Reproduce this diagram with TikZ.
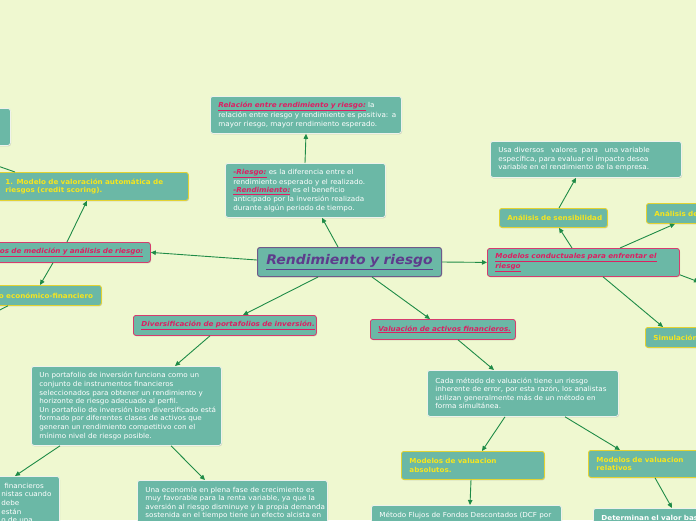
\documentclass[tikz,border=0pt]{standalone}
\usepackage{fontspec}
\setmainfont[FakeStretch=1.05]{DejaVu Sans}
\usetikzlibrary{arrows.meta,shadows}
\definecolor{bgc}{HTML}{EFF8D0}
\definecolor{tealc}{HTML}{6BB8A6}
\definecolor{boxline}{HTML}{EEF2EC}
\definecolor{pinkt}{HTML}{DC1F62}
\definecolor{pinkb}{HTML}{D63C6E}
\definecolor{yelt}{HTML}{F6E51E}
\definecolor{yelb}{HTML}{E2D232}
\definecolor{purt}{HTML}{5E3C8C}
\definecolor{purb}{HTML}{6E5A8A}
\definecolor{arrowc}{HTML}{1F8B47}
\newcommand\pk[1]{{\color{pinkt}\bfseries\itshape\underline{#1}}}
\newcommand\yl[1]{{\color{yelt}\bfseries #1}}
\newcommand\lnx[1]{\mbox{#1}}
\begin{document}
\begin{tikzpicture}[x=1pt,y=-1pt,
  box/.style={draw=boxline, fill=tealc, rounded corners=2.5pt, line width=0.8pt,
    inner xsep=8pt, inner ysep=0pt, anchor=north west, align=left, text=white,
    font=\fontsize{6.85}{8.6}\selectfont,
    drop shadow={opacity=0.3, shadow xshift=0.6pt, shadow yshift=-0.9pt}},
  ybox/.style={box, draw=yelb},
  pbox/.style={box, draw=pinkb},
  arr/.style={draw=arrowc, line width=0.9pt, -{Triangle[width=4.5pt,length=5pt]}}]
\useasboundingbox (0,0) rectangle (696,520);
\clip (0,0) rectangle (696,520);
\fill[bgc] (0,0) rectangle (696,520);

% nodes
\node[box, text width=54pt, minimum height=37pt] (tl) at (-60,108) {};
\node[box, text width=175pt, minimum height=37pt] (rel) at (210,96)
  {\lnx{\pk{Relación entre rendimiento y riesgo:} la}\\\lnx{relación entre riesgo y rendimiento es positiva: a}\\\lnx{mayor riesgo, mayor rendimiento esperado.}};
\node[box, text width=144pt, minimum height=54pt] (ries) at (225,163)
  {\lnx{\pk{-Riesgo:} es la diferencia entre el}\\\lnx{rendimiento esperado y el realizado.}\\\lnx{\pk{-Rendimiento:} es el beneficio}\\\lnx{anticipado por la inversión realizada}\\\lnx{durante algún periodo de tiempo.}};
\node[box, draw=purb, line width=1pt, text width=168pt, minimum height=29pt, align=center,
  font=\fontsize{13.3}{16}\selectfont] (cen) at (257,247)
  {{\color{purt}\bfseries\itshape\underline{Rendimiento y riesgo}}};
\node[ybox, text width=175pt, minimum height=28pt] (credit) at (-3,172)
  {\lnx{\yl{1. Modelo de valoración automática de}}\\\lnx{\yl{riesgos (credit scoring).}}};
\node[pbox, text width=167pt, minimum height=20pt] (med) at (-33,242)
  {\lnx{\pk{Modelos de medición y análisis de riesgo:}}};
\node[ybox, text width=119pt, minimum height=20pt] (eco) at (-34,285)
  {\lnx{\yl{Modelo económico-financiero}}};
\node[pbox, text width=167pt, minimum height=20pt, align=center] (div) at (133,315)
  {\lnx{\pk{Diversificación de portafolios de inversión.}}};
\node[pbox, text width=129pt, minimum height=20pt, align=center] (val) at (370,319)
  {\lnx{\pk{Valuación de activos financieros.}}};
\node[pbox, text width=176pt, minimum height=28pt] (cond) at (487,248)
  {\lnx{\pk{Modelos conductuales para enfrentar el}}\\\lnx{\pk{riesgo}}};
\node[box, text width=175pt, minimum height=36pt] (usa) at (490,141)
  {\lnx{Usa diversos\ \ \ valores\ \ para\ \ \ una variable}\\\lnx{específica, para evaluar el impacto desea}\\\lnx{variable en el rendimiento de la empresa.}};
\node[ybox, text width=92pt, minimum height=19pt, align=center] (sens) at (499,208)
  {\lnx{\yl{Análisis de sensibilidad}}};
\node[ybox, text width=64pt, minimum height=20pt] (anal) at (646,203)
  {\lnx{\yl{Análisis de}}};
\node[ybox, text width=64pt, minimum height=20pt] (sim) at (645,327)
  {\lnx{\yl{Simulación}}};
\node[box, text width=174pt, minimum height=79pt] (port) at (31,366)
  {\lnx{Un portafolio de inversión funciona como un}\\\lnx{conjunto de instrumentos financieros}\\\lnx{seleccionados para obtener un rendimiento y}\\\lnx{horizonte de riesgo adecuado al perfil.}\\\lnx{Un portafolio de inversión bien diversificado está}\\\lnx{formado por diferentes clases de activos que}\\\lnx{generan un rendimiento competitivo con el}\\\lnx{mínimo nivel de riesgo posible.}};
\node[box, inner xsep=0pt, text width=69pt, minimum height=53pt] (bl) at (-10,476)
  {\hspace*{14pt}financieros\\\hspace*{11pt}nistas cuando\\\hspace*{11pt}debe\\\hspace*{11pt}están\\\hspace*{11pt}o de una};
\node[box, text width=174pt, minimum height=45pt] (econ) at (137,480)
  {\lnx{Una economía en plena fase de crecimiento es}\\\lnx{muy favorable para la renta variable, ya que la}\\\lnx{aversión al riesgo disminuye y la propia demanda}\\\lnx{sostenida en el tiempo tiene un efecto alcista en}};
\node[box, text width=175pt, minimum height=46pt] (cada) at (427,370)
  {\lnx{Cada método de valuación tiene un riesgo}\\\lnx{inherente de error, por esta razón, los analistas}\\\lnx{utilizan generalmente más de un método en}\\\lnx{forma simultánea.}};
\node[ybox, text width=127pt, minimum height=28pt] (abs) at (401,451)
  {\lnx{\yl{Modelos de valuacion}}\\\lnx{\yl{absolutos.}}};
\node[ybox, text width=104pt, minimum height=27pt] (relv) at (588,450)
  {\lnx{\yl{Modelos de valuacion}}\\\lnx{\yl{relativos}}};
\node[box, text width=174pt, minimum height=20pt] (dcf) at (371,505)
  {\lnx{Método Flujos de Fondos Descontados (DCF por}};
\node[box, text width=104pt, minimum height=20pt] (det) at (593,508)
  {\lnx{\bfseries Determinan el valor bas}};

\coordinate (o1) at (-25,158);
\coordinate (o2) at (-12,316);
\coordinate (o3) at (699,282);

% connectors
\draw[arr] ([xshift=81pt]cen.north west) -- ([xshift=97pt]ries.south west);
\draw[arr] ([xshift=80pt]ries.north west) -- ([xshift=96pt]rel.south west);
\draw[arr] ([yshift=2pt]cen.west) -- (med.east);
\draw[arr] ([xshift=100pt]med.north west) -- ([xshift=90pt]credit.south west);
\draw[arr] ([xshift=86pt]med.south west) -- ([xshift=74pt]eco.north west);
\draw[arr] ([xshift=18pt]credit.north west) -- (o1);
\draw[arr] ([xshift=42pt]eco.south west) -- (o2);
\draw[arr] ([xshift=61pt]cen.south west) -- ([xshift=110pt]div.north west);
\draw[arr] ([xshift=115pt]cen.south west) -- ([xshift=60pt]val.north west);
\draw[arr] (cen.east) -- (cond.west);
\draw[arr] ([xshift=85pt]cond.north west) -- ([xshift=60pt]sens.south west);
\draw[arr] ([xshift=60pt]sens.north west) -- ([xshift=86pt]usa.south west);
\draw[arr] ([xshift=133pt]cond.north west) -- ([xshift=29pt]anal.south west);
\draw[arr] ([xshift=116pt]cond.south west) -- ([xshift=18pt]sim.north west);
\draw[arr] ([yshift=2pt]cond.south east) -- (o3);
\draw[arr] ([xshift=77pt]div.south west) -- ([xshift=144pt]port.north west);
\draw[arr] ([xshift=29pt]port.south west) -- ([xshift=25pt]bl.north west);
\draw[arr] ([xshift=140pt]port.south west) -- ([xshift=68pt]econ.north west);
\draw[arr] ([xshift=88pt]val.south west) -- ([xshift=67pt]cada.north west);
\draw[arr] ([xshift=78pt]cada.south west) -- ([xshift=81pt]abs.north west);
\draw[arr] ([xshift=138pt]cada.south west) -- ([xshift=32pt]relv.north west);
\draw[arr] ([xshift=70pt]abs.south west) -- ([xshift=99pt]dcf.north west);
\draw[arr] ([xshift=67pt]relv.south west) -- ([xshift=79pt]det.north west);
\end{tikzpicture}
\end{document}
